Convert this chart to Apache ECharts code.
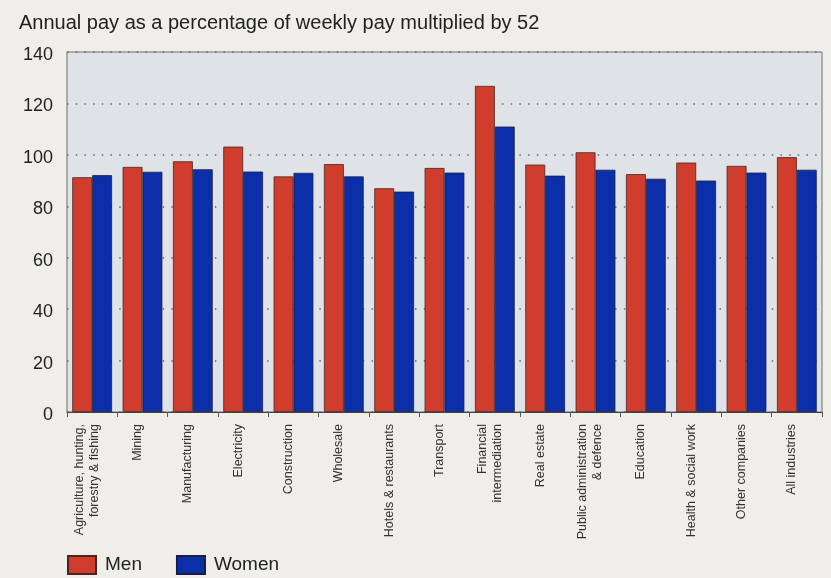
<!DOCTYPE html>
<html>
<head>
<meta charset="utf-8">
<style>
  html, body { margin: 0; padding: 0; background: #efeee8; }
  #chart { width: 831px; height: 578px; }
</style>
<script src="https://cdn.jsdelivr.net/npm/echarts@6/dist/echarts.min.js"></script>
</head>
<body>
<div id="chart"></div>
<script>
// Industry categories (two-line names broken with \n)
const categories = [
  'Agriculture, hunting,\nforestry & fishing',
  'Mining',
  'Manufacturing',
  'Electricity',
  'Construction',
  'Wholesale',
  'Hotels & restaurants',
  'Transport',
  'Financial\nintermediation',
  'Real estate',
  'Public administration\n& defence',
  'Education',
  'Health & social work',
  'Other companies',
  'All industries'
];

// Annual pay as % of weekly pay x 52
const men   = [91.3, 95.3, 97.5, 103.2, 91.6, 96.4, 87.0, 94.9, 126.8, 96.2, 101.0, 92.5, 97.0, 95.7, 99.1];
const women = [92.1, 93.4, 94.4, 93.5, 93.0, 91.6, 85.7, 93.1, 111.0, 91.9, 94.2, 90.7, 90.0, 93.1, 94.2];

const titleText = 'Annual pay as a percentage of weekly pay multiplied by 52';

const chart = echarts.init(document.getElementById('chart'));
const font = '"Liberation Sans", Arial, Helvetica, sans-serif';

chart.setOption({
  backgroundColor: '#efeee8',
  animation: false,
  textStyle: { fontFamily: font },
  title: {
    text: titleText,
    left: 14,
    top: 8,
    textStyle: { fontFamily: font, fontSize: 20, fontWeight: 'normal', color: '#222' }
  },
  legend: {
    left: 62,
    top: 550,
    itemWidth: 28,
    itemHeight: 18,
    itemGap: 34,
    icon: 'rect',
    textStyle: { fontFamily: font, fontSize: 19, color: '#222', padding: [0, 0, 0, 4] },
    data: ['Men', 'Women']
  },
  grid: {
    left: 67,
    right: 9,
    top: 52,
    bottom: 166,
    show: true,
    backgroundColor: '#dfe3e8',
    borderColor: '#6f6f6f',
    borderWidth: 1
  },
  xAxis: {
    type: 'category',
    data: categories,
    axisLine: { lineStyle: { color: '#444', width: 1 } },
    axisTick: { show: true, interval: 0, length: 5, lineStyle: { color: '#555' } },
    axisLabel: {
      interval: 0,
      rotate: 90,
      margin: 12,
      formatter: function (v) {
        return v.split('\n').map(function (s) { return '{c|' + s + '}'; }).join('\n');
      },
      rich: {
        c: { fontFamily: font, fontSize: 12.5, lineHeight: 15, color: '#333', padding: [0, 0, 10, 0] }
      }
    }
  },
  yAxis: {
    type: 'value',
    min: 0,
    max: 140,
    interval: 20,
    axisLine: { show: false },
    axisTick: { show: false },
    axisLabel: {
      margin: 14,
      formatter: '{v|{value}}',
      rich: { v: { fontFamily: font, fontSize: 18, color: '#222', padding: [6, 0, 0, 0] } }
    },
    splitLine: { show: true, lineStyle: { color: '#666', type: [1.5, 7.2], width: 1.5 } }
  },
  series: [
    {
      name: 'Men',
      type: 'bar',
      data: men,
      barGap: '0%',
      barCategoryGap: '21%',
      itemStyle: { color: '#d03d2d', borderColor: '#4a2420', borderWidth: 0.8 }
    },
    {
      name: 'Women',
      type: 'bar',
      data: women,
      itemStyle: { color: '#0b2fa9', borderColor: '#1a1f40', borderWidth: 0.8 }
    }
  ]
});
</script>
</body>
</html>
